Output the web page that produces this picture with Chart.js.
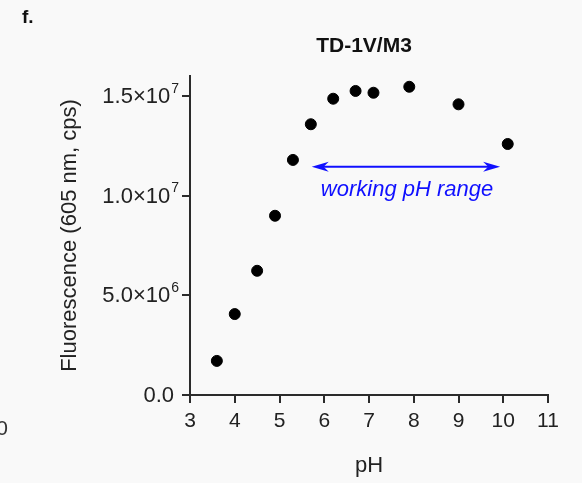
<!DOCTYPE html>
<html>
<head>
<meta charset="utf-8">
<script src="https://cdn.jsdelivr.net/npm/chart.js@4.4.1/dist/chart.umd.min.js"></script>
<style>
    html, body { margin: 0; padding: 0; background: #f9f9f9; }
    canvas { display: block; }
</style>
</head>
<body>
<canvas id="phChart" width="582" height="483"></canvas>
<script>
// data
const phValues = [3.6, 4.0, 4.5, 4.9, 5.3, 5.7, 6.2, 6.7, 7.1, 7.9, 9.0, 10.1];
const fluorValues = [1.71e6, 4.06e6, 6.23e6, 8.99e6, 11.79e6, 13.58e6, 14.86e6, 15.25e6, 15.16e6, 15.46e6, 14.58e6, 12.59e6];
const yTickValues = [0, 5e6, 1e7, 1.5e7];
const yTickBase = ['0.0', '5.0×10', '1.0×10', '1.5×10'];
const yTickExp = ['', '6', '7', '7'];
const rangeStart = [5.72, 11.45e6];
const rangeEnd = [9.93, 11.45e6];
const rangeLabel = 'working pH range';
const rangeLabelPos = [7.85, 10.28e6];

const FONT = "'Liberation Sans', Arial, sans-serif";
const AXIS = '#2b2b2b';

const extras = {
    id: 'extras',
    afterDraw(chart) {
        const ctx = chart.ctx;
        const xs = chart.scales.x;
        const ys = chart.scales.y;
        ctx.save();

        // panel letter and title
        ctx.fillStyle = '#111';
        ctx.textBaseline = 'middle';
        ctx.textAlign = 'left';
        ctx.font = 'bold 19px ' + FONT;
        ctx.fillText('f.', 22, 18);
        ctx.textAlign = 'center';
        ctx.font = 'bold 21px ' + FONT;
        ctx.fillText('TD-1V/M3', 364, 46);
        // clipped label from neighbouring panel
        ctx.fillStyle = '#333';
        ctx.textAlign = 'right';
        ctx.font = '21px ' + FONT;
        ctx.fillText('0', 8, 429);

        // y tick labels with superscript exponents
        ctx.fillStyle = '#222';
        ctx.textAlign = 'right';
        ctx.textBaseline = 'middle';
        const right = ys.right - 13;
        yTickValues.forEach((v, i) => {
            const py = ys.getPixelForValue(v);
            let x = right;
            if (yTickExp[i]) {
                ctx.font = '14px ' + FONT;
                ctx.fillText(yTickExp[i], x + 2, py - 7);
                x -= ctx.measureText(yTickExp[i]).width - 1;
            } else {
                x -= 3;
            }
            ctx.font = '22px ' + FONT;
            ctx.fillText(yTickBase[i], x, py + 1);
        });

        // double arrow
        const x1 = xs.getPixelForValue(rangeStart[0]);
        const x2 = xs.getPixelForValue(rangeEnd[0]);
        const y = ys.getPixelForValue(rangeStart[1]);
        ctx.strokeStyle = '#1010ff';
        ctx.fillStyle = '#1010ff';
        ctx.lineWidth = 2;
        ctx.beginPath();
        ctx.moveTo(x1 + 8, y);
        ctx.lineTo(x2 - 8, y);
        ctx.stroke();
        function head(tipX, dir) {
            const len = 17, half = 5;
            ctx.beginPath();
            ctx.moveTo(tipX, y);
            ctx.lineTo(tipX + dir * len, y - half);
            ctx.lineTo(tipX + dir * len * 0.7, y);
            ctx.lineTo(tipX + dir * len, y + half);
            ctx.closePath();
            ctx.fill();
        }
        head(x1, 1);
        head(x2, -1);

        ctx.textAlign = 'center';
        ctx.textBaseline = 'middle';
        ctx.font = 'italic 22px ' + FONT;
        ctx.fillText(rangeLabel, xs.getPixelForValue(rangeLabelPos[0]), ys.getPixelForValue(rangeLabelPos[1]));
        ctx.restore();
    }
};

new Chart(document.getElementById('phChart'), {
    type: 'scatter',
    data: {
        datasets: [{
            data: phValues.map((v, i) => ({ x: v, y: fluorValues[i] })),
            backgroundColor: '#000',
            borderColor: '#000',
            pointRadius: 5.5,
            pointHoverRadius: 5.5
        }]
    },
    options: {
        responsive: false,
        animation: false,
        devicePixelRatio: 1,
        layout: { padding: { top: 76, left: 53, right: 34, bottom: 0 } },
        plugins: {
            legend: { display: false },
            tooltip: { enabled: false }
        },
        scales: {
            x: {
                type: 'linear',
                min: 3,
                max: 11,
                ticks: { stepSize: 1, color: '#222', font: { family: FONT, size: 21 }, padding: 6 },
                grid: { drawOnChartArea: false, tickLength: 8, color: AXIS, lineWidth: 2 },
                border: { color: AXIS, width: 2 },
                title: { display: true, text: 'pH', color: '#222', font: { family: FONT, size: 22 }, padding: { top: 4, bottom: 4 } },
                afterFit: function (scale) { scale.height = 88; }
            },
            y: {
                min: 0,
                max: 1.6e7,
                afterBuildTicks: function (scale) {
                    scale.ticks = yTickValues.map(v => ({ value: v }));
                },
                // labels are drawn by the extras plugin to get real superscripts
                ticks: { display: false },
                grid: { drawOnChartArea: false, tickLength: 8, color: AXIS, lineWidth: 2 },
                border: { color: AXIS, width: 2 },
                title: { display: true, text: 'Fluorescence (605 nm, cps)', color: '#222', font: { family: FONT, size: 22 }, padding: { top: 4, bottom: 4 } },
                afterFit: function (scale) { scale.width = 137; }
            }
        }
    },
    plugins: [extras]
});
</script>
</body>
</html>
